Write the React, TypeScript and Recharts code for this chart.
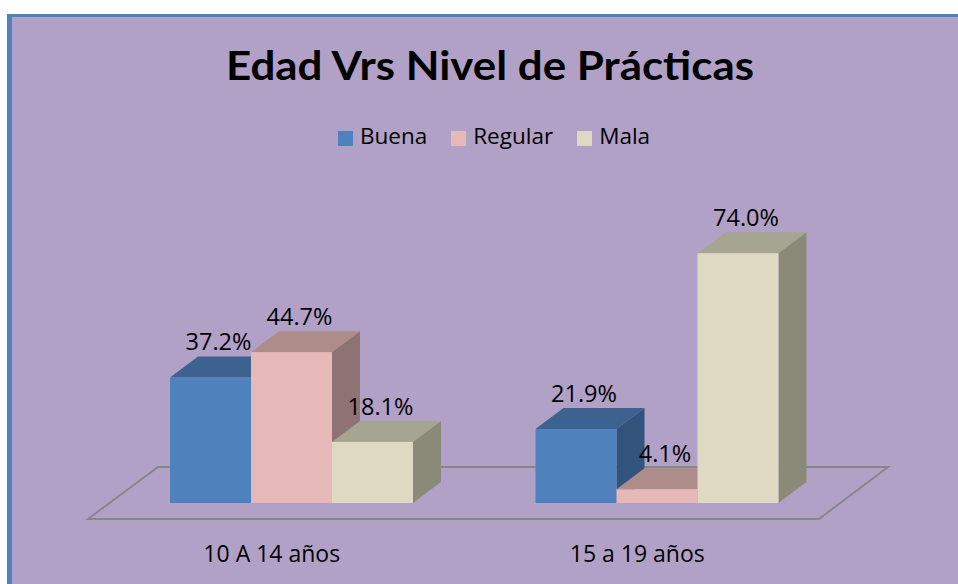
import { BarChart, Bar, XAxis, YAxis, Legend, LabelList, ReferenceLine } from "recharts";

const categories = ["10 A 14 años", "15 a 19 años"];
const seriesNames = ["Buena", "Regular", "Mala"];
const buena = [37.2, 21.9];
const regular = [44.7, 4.1];
const mala = [18.1, 74.0];

const data = categories.map((name, i) => ({
  name,
  Buena: buena[i],
  Regular: regular[i],
  Mala: mala[i],
}));

// depth of the fake 3d boxes
const DX = 28;
const DY = 21;
const FONT = "'Open Sans', 'Noto Sans', sans-serif";

const palette: Record<string, { front: string; top: string; side: string }> = {
  Buena: { front: "#4F81BD", top: "#3C6290", side: "#32537B" },
  Regular: { front: "#E6B9B8", top: "#AE8C8A", side: "#8F7372" },
  Mala: { front: "#DDD9C3", top: "#A6A592", side: "#8B8A79" },
};

function box(key: string) {
  const c = palette[key];
  return (props: any) => {
    const { x, y, width: w, height: h } = props;
    if (w == null || h == null) return null;
    return (
      <g>
        <polygon
          points={`${x},${y} ${x + DX},${y - DY} ${x + w + DX},${y - DY} ${x + w},${y}`}
          fill={c.top}
        />
        <polygon
          points={`${x + w},${y} ${x + w + DX},${y - DY} ${x + w + DX},${y + h - DY} ${x + w},${y + h}`}
          fill={c.side}
        />
        <rect x={x} y={y} width={w} height={h} fill={c.front} />
      </g>
    );
  };
}

function Floor(props: any) {
  const { x1, x2, y1 } = props;
  const pts = [
    [x1 - 21, y1 + 16],
    [x1 + 49, y1 - 36],
    [x2 + 48, y1 - 36],
    [x2 - 21, y1 + 16],
  ];
  return (
    <polygon
      points={pts.map((p) => p.join(",")).join(" ")}
      fill="none"
      stroke="#878787"
      strokeWidth={2}
    />
  );
}

function ValueLabel(props: any) {
  const vb = props.viewBox && props.viewBox.width != null ? props.viewBox : props;
  const { x, y, width } = vb;
  return (
    <text
      x={x + width / 2 + 8}
      y={y - DY - 6}
      textAnchor="middle"
      fontFamily={FONT}
      fontSize={23.5}
      fill="#000"
    >
      {Number(props.value).toFixed(1)}%
    </text>
  );
}

function CategoryTick(props: any) {
  const { x, y, payload } = props;
  return (
    <text x={x - 20} y={y + 51} textAnchor="middle" fontFamily={FONT} fontSize={23} fill="#000">
      {payload.value}
    </text>
  );
}

function LegendContent({ payload }: any) {
  const items = seriesNames
    .map((n) => (payload || []).find((p: any) => p.value === n))
    .filter(Boolean);
  return (
    <div
      style={{
        display: "flex",
        justifyContent: "center",
        alignItems: "center",
        gap: 24,
        fontFamily: FONT,
        fontSize: 22.5,
        lineHeight: "30px",
        color: "#000",
      }}
    >
      {items.map((p: any) => (
        <div key={p.value} style={{ display: "flex", alignItems: "center" }}>
          <span style={{ width: 15, height: 15, background: p.color, marginRight: 7, marginTop: 4 }} />
          <span>{p.value}</span>
        </div>
      ))}
    </div>
  );
}

export default function App() {
  return (
    <div
      style={{
        position: "fixed",
        left: 0,
        top: 0,
        width: 958,
        height: 584,
        overflow: "hidden",
        background: "#fff",
      }}
    >
      <div
        style={{
          position: "absolute",
          left: 7,
          top: 14,
          width: 1000,
          height: 700,
          borderLeft: "5px solid #4F81BD",
          borderTop: "3px solid #4F81BD",
          background: "#B2A1C7",
        }}
      />
      <svg width={958} height={110} style={{ position: "absolute", left: 0, top: 0 }}>
        <text
          x={490}
          y={80}
          textAnchor="middle"
          fontFamily="Lato, 'Open Sans', sans-serif"
          fontWeight="bold"
          fontSize={40}
          textLength={528}
          lengthAdjust="spacingAndGlyphs"
          fill="#000"
        >
          Edad Vrs Nivel de Prácticas
        </text>
      </svg>
      <div style={{ position: "absolute", left: 0, top: 0 }}>
        <BarChart
          width={958}
          height={584}
          data={data}
          margin={{ top: 233, right: 118, bottom: 21, left: 109 }}
          barGap={0}
          barSize={81}
        >
          <XAxis
            dataKey="name"
            axisLine={false}
            tickLine={false}
            height={60}
            tick={<CategoryTick />}
            interval={0}
          />
          <YAxis hide domain={[0, 80]} />
          <ReferenceLine y={0} shape={<Floor />} zIndex={-10} />
          <Legend
            layout="horizontal"
            verticalAlign="middle"
            align="center"
            content={<LegendContent />}
            wrapperStyle={{ top: 121, left: 15, width: 958 }}
          />
          {seriesNames.map((k) => (
            <Bar
              key={k}
              dataKey={k}
              fill={palette[k].front}
              shape={box(k)}
              isAnimationActive={false}
            >
              <LabelList dataKey={k} content={<ValueLabel />} />
            </Bar>
          ))}
        </BarChart>
      </div>
    </div>
  );
}
